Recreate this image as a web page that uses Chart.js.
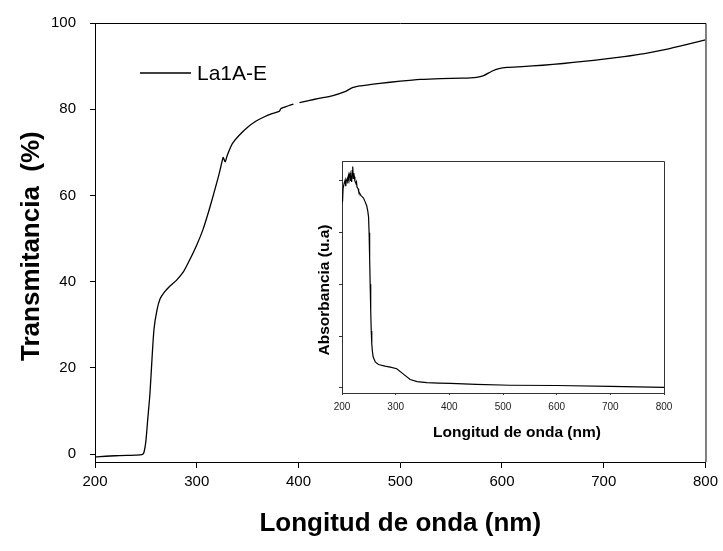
<!DOCTYPE html>
<html>
<head>
<meta charset="utf-8">
<script src="https://cdn.jsdelivr.net/npm/chart.js@4.4.0/dist/chart.umd.min.js"></script>
<style>
  html, body { margin: 0; padding: 0; background: #fff; }
  #wrap { position: relative; width: 723px; height: 551px; }
  #main { position: absolute; left: 0; top: 0; }
  #inset { position: absolute; left: 300px; top: 150px; }
</style>
</head>
<body>
<div id="wrap">
  <canvas id="main" width="723" height="551"></canvas>
  <canvas id="inset" width="380" height="300"></canvas>
</div>
<script>
// ---- Main chart data: transmittance (%) vs wavelength (nm) ----
const seriesName = "La1A-E";
const wavelength = [200, 220, 240, 246, 248, 250, 252, 254, 256, 258, 261, 264, 268, 273, 280, 287, 293, 300, 306, 312, 318, 322, 325, 326, 328, 330, 335, 342, 350, 358, 366, 374, 381, 383, 390, 395, 397, 401, 410, 420, 433, 445, 453, 460, 467, 480, 500, 520, 540, 560, 575, 582, 590, 597, 605, 620, 640, 660, 680, 700, 720, 740, 760, 780, 800];
const transmittance = [-0.7, -0.4, -0.25, -0.15, 0.3, 3, 8.5, 14, 22, 29, 33.5, 36, 37.5, 38.8, 40.3, 42.3, 45, 48.5, 52, 56.5, 61.5, 65, 68, 68.8, 67.8, 69.3, 72, 74, 75.8, 77.2, 78.2, 79, 79.5, 80.2, 80.8, 81.2, null, 81.5, 82, 82.5, 83.1, 84, 85, 85.4, 85.6, 86, 86.5, 86.9, 87.1, 87.2, 87.4, 87.8, 88.8, 89.4, 89.7, 89.9, 90.2, 90.6, 91.1, 91.6, 92.2, 92.9, 93.8, 94.9, 96.1];
const mainXTicks = [200, 300, 400, 500, 600, 700, 800];
const mainYTicks = [0, 20, 40, 60, 80, 100];

// ---- Inset data: absorbance (a.u.) vs wavelength (nm) ----
const insetWavelength = [200, 201, 202, 204, 206, 207, 208, 210, 211, 212, 213, 214, 215, 216, 217, 218, 219, 220, 221, 222, 223, 224, 226, 227, 228, 230, 231, 233, 235, 237, 240, 243, 246, 248, 249.5, 250.5, 251.5, 252.5, 253.5, 254.5, 255.5, 256.5, 258, 262, 268, 280, 290, 302, 315, 327, 340, 358, 380, 402, 450, 513, 600, 700, 800];
const absorbance = [3.7, 3.6, 3.85, 3.95, 4.02, 3.9, 4.0, 4.05, 3.95, 4.1, 4.05, 4.12, 4.15, 4.0, 4.1, 3.98, 4.2, 4.28, 4.05, 4.15, 4.08, 4.0, 3.95, 3.98, 3.88, 3.85, 3.8, 3.76, 3.72, 3.7, 3.67, 3.6, 3.52, 3.42, 3.3, 3.0, 2.5, 2.0, 1.5, 1.1, 0.85, 0.72, 0.6, 0.5, 0.45, 0.42, 0.4, 0.37, 0.26, 0.16, 0.12, 0.1, 0.09, 0.085, 0.065, 0.05, 0.045, 0.03, 0.01];
const insetXTicks = [200, 300, 400, 500, 600, 700, 800];
const insetYTicks = [0, 1, 2, 3, 4];
const insetXTitle = "Longitud de onda (nm)";
const insetYTitle = "Absorbancia (u.a)";

const FONT = "'Liberation Sans', Arial, sans-serif";

function toPoints(xs, ys) {
  return xs.map((x, i) => ({ x: x, y: ys[i] }));
}

// Draws the top & right sides of the frame around the plotting area
const framePlugin = {
  id: 'frame',
  afterDraw(chart, args, opts) {
    const a = chart.chartArea, ctx = chart.ctx;
    ctx.save();
    ctx.strokeStyle = opts.color || '#000';
    ctx.lineWidth = opts.width || 1;
    ctx.beginPath();
    ctx.moveTo(a.left, a.top + 0.5);
    ctx.lineTo(a.right + 0.5, a.top + 0.5);
    ctx.lineTo(a.right + 0.5, a.bottom);
    ctx.stroke();
    ctx.restore();
  }
};

// Legend drawn inside the plot area (line sample + label)
const insideLegend = {
  id: 'insideLegend',
  afterDraw(chart, args, opts) {
    if (!opts || !opts.display) return;
    const ctx = chart.ctx;
    const ds = chart.data.datasets[0];
    ctx.save();
    ctx.strokeStyle = ds.borderColor;
    ctx.lineWidth = 1.3;
    ctx.beginPath();
    ctx.moveTo(opts.x1, opts.y);
    ctx.lineTo(opts.x2, opts.y);
    ctx.stroke();
    ctx.fillStyle = '#000';
    ctx.font = opts.font;
    ctx.textBaseline = 'middle';
    ctx.textAlign = 'left';
    ctx.fillText(ds.label, opts.textX, opts.y + 1);
    ctx.restore();
  }
};

// Inset axis titles placed at explicit points
const insetTitles = {
  id: 'insetTitles',
  afterDraw(chart, args, opts) {
    if (!opts || !opts.display) return;
    const ctx = chart.ctx;
    ctx.save();
    ctx.font = opts.font;
    ctx.fillStyle = '#000';
    ctx.textAlign = 'center';
    ctx.textBaseline = 'middle';
    ctx.fillText(opts.xText, opts.xTitleX, opts.xTitleY);
    ctx.translate(opts.yTitleX, opts.yTitleY);
    ctx.rotate(-Math.PI / 2);
    ctx.fillText(opts.yText, 0, 0);
    ctx.restore();
  }
};

Chart.defaults.font.family = FONT;
Chart.defaults.color = '#000';

new Chart(document.getElementById('main'), {
  type: 'line',
  data: {
    datasets: [{
      label: seriesName,
      data: toPoints(wavelength, transmittance),
      borderColor: '#000',
      borderWidth: 1.3,
      pointRadius: 0,
      tension: 0.2,
      spanGaps: false,
      fill: false
    }]
  },
  options: {
    responsive: false,
    animation: false,
    devicePixelRatio: 1,
    layout: { padding: { left: 0, top: 18, right: 15, bottom: 0 } },
    plugins: {
      legend: { display: false },
      tooltip: { enabled: false },
      frame: { color: '#000', width: 1 },
      insideLegend: { display: true, x1: 140, x2: 191, y: 73, textX: 197, font: "21px " + FONT },
      insetTitles: { display: false }
    },
    scales: {
      x: {
        type: 'linear',
        min: 200, max: 800,
        afterBuildTicks: (s) => { s.ticks = mainXTicks.map(v => ({ value: v })); },
        afterFit: (s) => { s.height = 89; },
        grid: { drawOnChartArea: false, drawTicks: true, tickLength: 6, color: '#000', lineWidth: 1 },
        border: { display: true, color: '#000', width: 1 },
        ticks: { font: { size: 15 }, color: '#000', padding: 5, maxRotation: 0 },
        title: { display: true, text: 'Longitud de onda (nm)', font: { size: 26, weight: 'bold' }, color: '#000', padding: { top: 0, bottom: 12 } }
      },
      y: {
        type: 'linear',
        min: -1.85, max: 100,
        afterBuildTicks: (s) => { s.ticks = mainYTicks.map(v => ({ value: v })); },
        afterFit: (s) => { s.width = 95; },
        grid: { drawOnChartArea: false, drawTicks: true, tickLength: 5, color: '#000', lineWidth: 1 },
        border: { display: true, color: '#000', width: 1 },
        ticks: { font: { size: 15 }, color: '#000', padding: 14 },
        title: { display: true, text: 'Transmitancia  (%) ', font: { size: 26, weight: 'bold' }, color: '#000', padding: { top: 16, bottom: 0 } }
      }
    }
  },
  plugins: [framePlugin, insideLegend, insetTitles]
});

new Chart(document.getElementById('inset'), {
  type: 'line',
  data: {
    datasets: [{
      label: 'Absorbancia',
      data: toPoints(insetWavelength, absorbance),
      borderColor: '#000',
      borderWidth: 1.2,
      pointRadius: 0,
      tension: 0,
      fill: false
    }]
  },
  options: {
    responsive: false,
    animation: false,
    devicePixelRatio: 1,
    layout: { padding: { left: 0, top: 11, right: 16, bottom: 0 } },
    plugins: {
      legend: { display: false },
      tooltip: { enabled: false },
      frame: { color: '#333', width: 1 },
      insideLegend: { display: false },
      insetTitles: {
        display: true, font: "bold 15.5px " + FONT,
        xText: insetXTitle, xTitleX: 217, xTitleY: 283,
        yText: insetYTitle, yTitleX: 25, yTitleY: 140
      }
    },
    scales: {
      x: {
        type: 'linear',
        min: 200, max: 800,
        afterBuildTicks: (s) => { s.ticks = insetXTicks.map(v => ({ value: v })); },
        afterFit: (s) => { s.height = 57; },
        grid: { drawOnChartArea: false, drawTicks: true, tickLength: 2, color: '#333', lineWidth: 1 },
        border: { display: true, color: '#333', width: 1 },
        ticks: { font: { size: 10 }, color: '#222', padding: 6, maxRotation: 0 },
        title: { display: false }
      },
      y: {
        type: 'linear',
        min: -0.1, max: 4.385,
        afterBuildTicks: (s) => { s.ticks = insetYTicks.map(v => ({ value: v })); },
        afterFit: (s) => { s.width = 42; },
        grid: { drawOnChartArea: false, drawTicks: true, tickLength: 3, color: '#333', lineWidth: 1 },
        border: { display: true, color: '#333', width: 1 },
        ticks: { display: false },
        title: { display: false }
      }
    }
  },
  plugins: [framePlugin, insideLegend, insetTitles]
});
</script>
</body>
</html>
